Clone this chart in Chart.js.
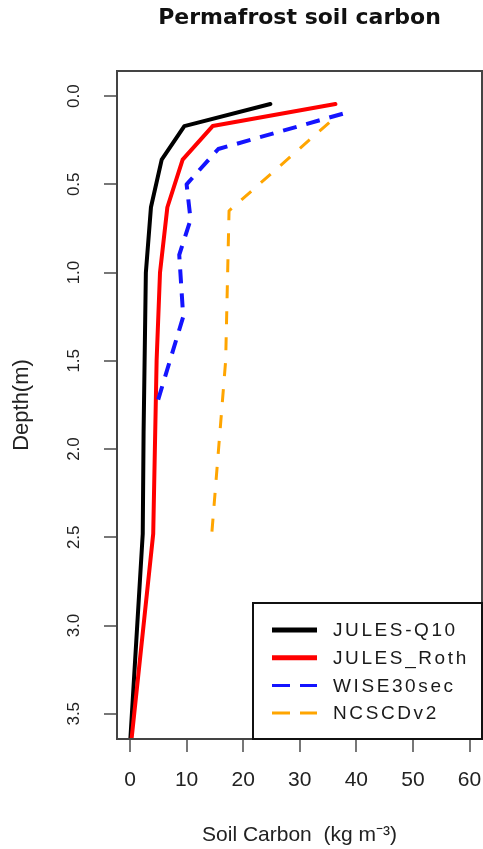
<!DOCTYPE html>
<html><head><meta charset="utf-8">
<script src="https://cdn.jsdelivr.net/npm/chart.js@4.4.1/dist/chart.umd.min.js"></script>
<style>html,body{margin:0;padding:0;background:#fff}</style>
</head><body>
<canvas id="c" width="483" height="849"></canvas>
<script>
// ---- data ----
const chartTitle = 'Permafrost soil carbon';
const xAxisTitle = 'Soil Carbon  (kg m\u207B\u00B3)';
const yAxisTitle = 'Depth(m)';
const xTickValues = [0, 10, 20, 30, 40, 50, 60];
const yTickValues = [0, 0.5, 1, 1.5, 2, 2.5, 3, 3.5];
const seriesNames = ['JULES-Q10', 'JULES_Roth', 'WISE30sec', 'NCSCDv2'];

const julesQ10Depth  = [0.045, 0.17, 0.36, 0.63, 1.0, 1.9, 2.48, 3.65];
const julesQ10Carbon = [24.8, 9.6, 5.6, 3.7, 2.8, 2.4, 2.25, 0.05];

const julesRothDepth  = [0.045, 0.17, 0.36, 0.63, 1.0, 1.5, 2.48, 3.65];
const julesRothCarbon = [36.3, 14.6, 9.3, 6.6, 5.3, 4.7, 4.1, 0.25];

const wiseDepth  = [0.1, 0.3, 0.5, 0.7, 0.9, 1.25, 1.75];
const wiseCarbon = [37.6, 15.6, 10.0, 10.7, 8.7, 9.4, 4.7];

const ncscdDepth  = [0.15, 0.65, 1.5, 2.5];
const ncscdCarbon = [35.2, 17.5, 16.9, 14.4];

function pts(depths, vals) { return depths.map((d, i) => ({ x: vals[i], y: d })); }

const datasets = [
  { label: seriesNames[0], data: pts(julesQ10Depth, julesQ10Carbon), borderColor: '#000000', borderWidth: 4, order: 4, borderDash: [] },
  { label: seriesNames[1], data: pts(julesRothDepth, julesRothCarbon), borderColor: '#ff0000', borderWidth: 4, order: 3, borderDash: [] },
  { label: seriesNames[2], data: pts(wiseDepth, wiseCarbon), borderColor: '#1414ff', borderWidth: 4, order: 2, borderDash: [14, 10] },
  { label: seriesNames[3], data: pts(ncscdDepth, ncscdCarbon), borderColor: '#ffa500', borderWidth: 3, order: 1, borderDash: [13, 13] }
].map(d => Object.assign({ showLine: true, pointRadius: 0, fill: false, tension: 0, borderCapStyle: d.borderDash.length ? 'butt' : 'round', borderJoinStyle: 'round' }, d));

const framePlugin = {
  id: 'frameLegend',
  afterDraw(chart) {
    const { ctx, chartArea: a } = chart;
    ctx.save();
    ctx.strokeStyle = '#444';
    ctx.lineWidth = 2;
    ctx.setLineDash([]);
    ctx.strokeRect(a.left, a.top, a.right - a.left, a.bottom - a.top);
    // legend box, bottom-right inside the plot
    const lw = 229, lh = 136;
    const lx = a.right - lw, ly = a.bottom - lh;
    ctx.fillStyle = '#fff';
    ctx.fillRect(lx, ly, lw, lh);
    ctx.strokeStyle = '#111';
    ctx.strokeRect(lx, ly, lw, lh);
    chart.data.datasets.forEach((ds, i) => {
      const y = ly + 27 + i * 27.7;
      ctx.beginPath();
      ctx.strokeStyle = ds.borderColor;
      ctx.lineWidth = ds.borderDash.length ? 3 : 5;
      ctx.lineCap = 'butt';
      ctx.setLineDash(ds.borderDash.length ? [18, 10] : []);
      ctx.moveTo(lx + 19, y);
      ctx.lineTo(lx + 64, y);
      ctx.stroke();
      ctx.setLineDash([]);
      ctx.fillStyle = '#1a1a1a';
      ctx.font = '19px "Liberation Sans", Arial, sans-serif';
      if ('letterSpacing' in ctx) ctx.letterSpacing = '2.6px';
      ctx.textAlign = 'left';
      ctx.textBaseline = 'middle';
      ctx.fillText(ds.label, lx + 80, y + 1);
      if ('letterSpacing' in ctx) ctx.letterSpacing = '0px';
    });
    ctx.restore();
  }
};

new Chart(document.getElementById('c'), {
  type: 'scatter',
  data: { datasets },
  options: {
    responsive: false,
    devicePixelRatio: 1,
    animation: false,
    events: [],
    layout: { padding: { top: 0, left: 0, right: 1, bottom: 0 } },
    plugins: {
      legend: { display: false },
      tooltip: { enabled: false },
      title: {
        display: true, text: chartTitle, fullSize: false, color: '#111',
        font: { family: '"DejaVu Sans", sans-serif', size: 22, weight: 'bold', lineHeight: 1.2 },
        padding: { top: 5, bottom: 39.6 }
      }
    },
    scales: {
      x: {
        type: 'linear', position: 'bottom', min: -2.3, max: 62.2,
        afterBuildTicks: s => { s.ticks = xTickValues.map(v => ({ value: v })); },
        afterFit: s => { s.height = 110; s.paddingLeft = 0; s.paddingRight = 0; },
        ticks: { color: '#222', font: { family: '"Liberation Sans", Arial, sans-serif', size: 21 }, padding: 16, maxRotation: 0, callback: v => String(v) },
        grid: { display: true, drawOnChartArea: false, drawTicks: true, tickLength: 13, color: '#777', lineWidth: 2 },
        border: { display: true, color: '#444', width: 2 },
        title: { display: true, text: xAxisTitle, color: '#222', font: { family: '"Liberation Sans", Arial, sans-serif', size: 21 }, padding: { top: 0, bottom: 1 } }
      },
      y: {
        type: 'linear', position: 'left', reverse: true, min: -0.142, max: 3.643,
        afterBuildTicks: s => { s.ticks = yTickValues.map(v => ({ value: v })); },
        afterFit: s => { s.width = 117; s.paddingTop = 0; s.paddingBottom = 0; },
        ticks: { color: '#222', font: { family: '"Liberation Sans", Arial, sans-serif', size: 17 }, padding: 18, minRotation: 90, maxRotation: 90, crossAlign: 'center', callback: v => Number(v).toFixed(1) },
        grid: { display: true, drawOnChartArea: false, drawTicks: true, tickLength: 13, color: '#777', lineWidth: 2 },
        border: { display: true, color: '#444', width: 2 },
        title: { display: true, text: yAxisTitle, color: '#222', font: { family: '"Liberation Sans", Arial, sans-serif', size: 22 }, padding: { top: 9, bottom: 0 } }
      }
    }
  },
  plugins: [framePlugin]
});
</script>
</body></html>
